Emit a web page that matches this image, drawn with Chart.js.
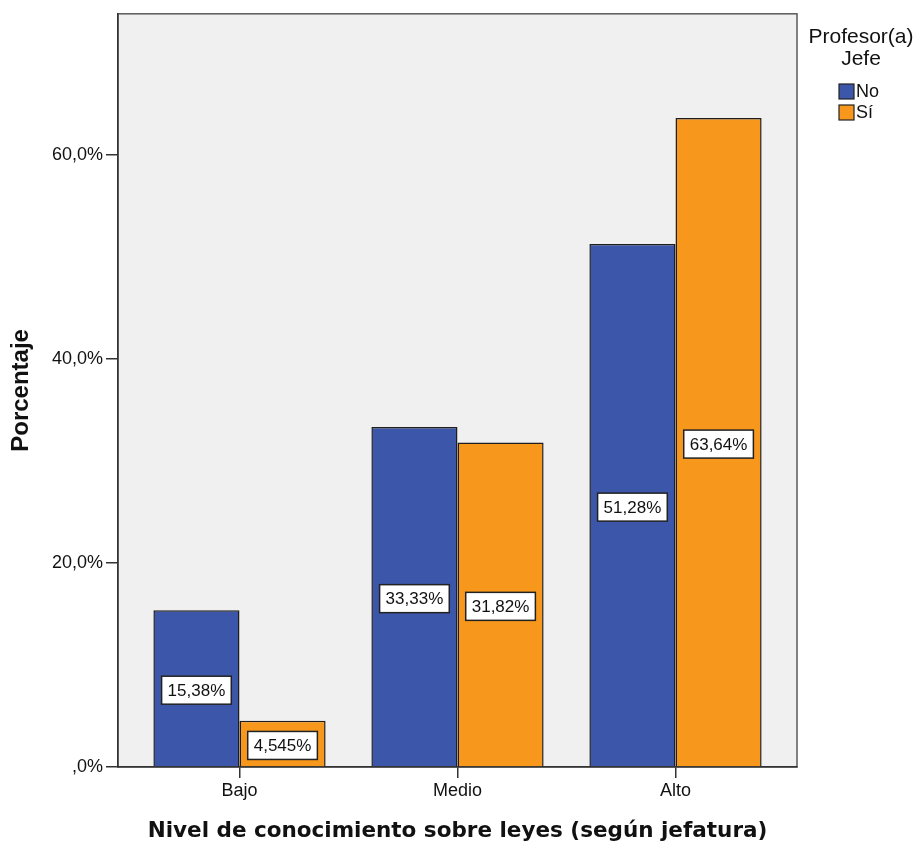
<!DOCTYPE html>
<html>
<head>
<meta charset="utf-8">
<script src="https://cdn.jsdelivr.net/npm/chart.js@4/dist/chart.umd.min.js"></script>
<style>
  body { margin: 0; background: #fff; }
  #wrap { width: 919px; height: 844px; }
</style>
</head>
<body>
<div id="wrap"><canvas id="myChart"></canvas></div>
<script>
const categories = ["Bajo", "Medio", "Alto"];
const seriesNames = ["No", "Sí"];
const noValues = [15.38, 33.33, 51.28];
const siValues = [4.545, 31.82, 63.64];
const yTicks = [0, 20, 40, 60];
const legendTitle = ["Profesor(a)", "Jefe"];

const FONT = "'Liberation Sans', Arial, sans-serif";
const colors = ["#3c57a9", "#f7981d"];

const fmtPct = (v) => String(v).replace(".", ",") + "%";

// grey plot background and frame
const frame = {
    id: "frame",
    beforeDraw: (chart) => {
        const { ctx, chartArea: a } = chart;
        ctx.save();
        ctx.fillStyle = "#f0f0f0";
        ctx.fillRect(a.left, a.top, a.right - a.left, a.bottom - a.top);
        ctx.strokeStyle = "#5a5a5a";
        ctx.lineWidth = 1.5;
        ctx.strokeRect(a.left, a.top, a.right - a.left, a.bottom - a.top);
        ctx.restore();
    },
};

// value boxes in the middle of each bar
const boxLabels = {
    id: "boxLabels",
    afterDatasetsDraw: (chart) => {
        const ctx = chart.ctx;
        ctx.save();
        ctx.font = "17px " + FONT;
        ctx.textAlign = "center";
        ctx.textBaseline = "middle";
        chart.data.datasets.forEach((ds, di) => {
            chart.getDatasetMeta(di).data.forEach((bar, i) => {
                const text = fmtPct(ds.data[i].y);
                const w = ctx.measureText(text).width + 12;
                const h = 28;
                const cx = bar.x;
                const cy = (bar.y + bar.base) / 2 + 2;
                ctx.fillStyle = "#ffffff";
                ctx.fillRect(cx - w / 2, cy - h / 2, w, h);
                ctx.strokeStyle = "#222";
                ctx.lineWidth = 1.5;
                ctx.strokeRect(cx - w / 2, cy - h / 2, w, h);
                ctx.fillStyle = "#111";
                ctx.fillText(text, cx, cy + 1);
            });
        });
        ctx.restore();
    },
};

// legend on the right with a two-line title
const sideLegend = {
    id: "sideLegend",
    afterDraw: (chart) => {
        const ctx = chart.ctx;
        ctx.save();
        ctx.fillStyle = "#111";
        ctx.textAlign = "center";
        ctx.textBaseline = "middle";
        ctx.font = "21px " + FONT;
        legendTitle.forEach((t, i) => ctx.fillText(t, 861, 37 + i * 22));
        ctx.font = "18px " + FONT;
        ctx.textAlign = "left";
        chart.data.datasets.forEach((ds, i) => {
            const y = 84 + i * 21;
            ctx.fillStyle = ds.backgroundColor;
            ctx.fillRect(839, y, 15, 15);
            ctx.strokeStyle = "#222";
            ctx.lineWidth = 1.2;
            ctx.strokeRect(839, y, 15, 15);
            ctx.fillStyle = "#111";
            ctx.fillText(ds.label, 856, y + 8);
        });
        ctx.restore();
    },
};

const ctx = document.getElementById("myChart");
new Chart(ctx, {
    type: "bar",
    data: {
        datasets: [noValues, siValues].map((vals, s) => ({
            label: seriesNames[s],
            data: vals.map((v, i) => ({ x: i, y: v })),
            backgroundColor: colors[s],
            borderColor: "#1e1e1e",
            borderWidth: 1.5,
            categoryPercentage: 0.79,
            barPercentage: 1,
        })),
    },
    options: {
        responsive: true,
        maintainAspectRatio: false,
        animation: false,
        layout: { padding: { top: 10, right: 122, left: 0, bottom: 0 } },
        plugins: { legend: { display: false }, tooltip: { enabled: false } },
        scales: {
            x: {
                type: "linear",
                offset: false,
                min: -0.5 - 12.5 / 218,
                max: 2.5 + 12.5 / 218,
                afterBuildTicks: (s) => {
                    s.ticks = categories.map((c, i) => ({ value: i }));
                },
                afterFit: (s) => { s.height = 77; },
                ticks: {
                    color: "#111",
                    font: { family: FONT, size: 18 },
                    padding: 2,
                    maxRotation: 0,
                    callback: (v) => categories[v],
                },
                grid: { offset: false, drawOnChartArea: false, tickLength: 11, color: "#333", lineWidth: 1.5 },
                border: { color: "#333", width: 1.5 },
                title: {
                    display: true,
                    text: "Nivel de conocimiento sobre leyes (según jefatura)",
                    color: "#111",
                    font: { family: "'DejaVu Sans', sans-serif", size: 21.5, weight: "bold" },
                    padding: { top: 0, bottom: 0 },
                },
            },
            y: {
                min: 0,
                max: 73.85,
                afterBuildTicks: (s) => {
                    s.ticks = yTicks.map((v) => ({ value: v }));
                },
                afterFit: (s) => { s.width = 118; },
                ticks: {
                    color: "#111",
                    font: { family: FONT, size: 18 },
                    padding: 3,
                    callback: (v) => (v === 0 ? ",0%" : v.toFixed(1).replace(".", ",") + "%"),
                },
                grid: { drawOnChartArea: false, tickLength: 12, color: "#333", lineWidth: 1.5 },
                border: { color: "#333", width: 1.5 },
                title: {
                    display: true,
                    text: "Porcentaje",
                    color: "#111",
                    font: { family: FONT, size: 24, weight: "bold" },
                    padding: { top: 7, bottom: 0 },
                },
            },
        },
    },
    plugins: [frame, boxLabels, sideLegend],
});
</script>
</body>
</html>
